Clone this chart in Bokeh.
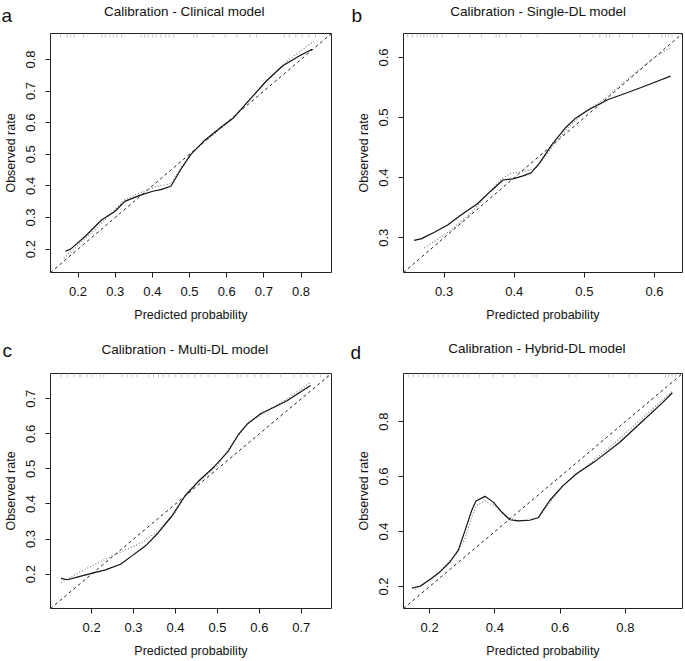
import numpy as np
from bokeh.plotting import figure
from bokeh.layouts import gridplot
from bokeh.models import FixedTicker, Range1d, Label
from bokeh.embed import file_html
from bokeh.resources import INLINE

FONT = "Liberation Sans"

# ---------------- data ----------------
# Panel a: Clinical model
a_lim = [0.126, 0.882]
a_xticks = [0.2, 0.3, 0.4, 0.5, 0.6, 0.7, 0.8]
a_yticks = [0.2, 0.3, 0.4, 0.5, 0.6, 0.7, 0.8]
a_bias_x = [0.166, 0.18, 0.219, 0.264, 0.299, 0.326, 0.366, 0.401, 0.423, 0.45, 0.476, 0.503, 0.538, 0.582, 0.618, 0.662, 0.706, 0.75, 0.795, 0.83]
a_bias_y = [0.193, 0.2, 0.24, 0.293, 0.319, 0.351, 0.37, 0.383, 0.388, 0.399, 0.451, 0.499, 0.541, 0.583, 0.615, 0.673, 0.731, 0.779, 0.811, 0.832]
a_app_x = [0.162, 0.202, 0.246, 0.29, 0.326, 0.37, 0.414, 0.45, 0.476, 0.511, 0.565, 0.618, 0.706, 0.768, 0.835]
a_app_y = [0.171, 0.214, 0.261, 0.314, 0.356, 0.38, 0.399, 0.407, 0.456, 0.51, 0.562, 0.615, 0.731, 0.8, 0.858]
a_rug = [0.153, 0.171, 0.18, 0.189, 0.215, 0.264, 0.273, 0.286, 0.295, 0.304, 0.317, 0.37, 0.379, 0.388,
         0.401, 0.41, 0.423, 0.436, 0.445, 0.458, 0.511, 0.52, 0.564, 0.596, 0.627, 0.662, 0.68, 0.755,
         0.768, 0.786, 0.803, 0.821, 0.839]

# Panel b: Single-DL model
b_lim = [0.242, 0.64]
b_xticks = [0.3, 0.4, 0.5, 0.6]
b_yticks = [0.3, 0.4, 0.5, 0.6]
b_bias_x = [0.257, 0.267, 0.286, 0.305, 0.323, 0.347, 0.366, 0.384, 0.398, 0.4125, 0.424, 0.436, 0.455, 0.473, 0.4875, 0.506, 0.534, 0.558, 0.581, 0.605, 0.623]
b_bias_y = [0.2955, 0.298, 0.309, 0.321, 0.337, 0.356, 0.377, 0.396, 0.398, 0.403, 0.408, 0.424, 0.457, 0.483, 0.499, 0.513, 0.53, 0.54, 0.55, 0.561, 0.569]
b_app_x = [0.272, 0.281, 0.309, 0.3375, 0.361, 0.38, 0.394, 0.4125, 0.431, 0.455, 0.478, 0.502, 0.53, 0.56, 0.6, 0.622]
b_app_y = [0.283, 0.29, 0.312, 0.34, 0.371, 0.396, 0.407, 0.41, 0.416, 0.452, 0.485, 0.511, 0.532, 0.563, 0.6, 0.616]
b_rug = [0.2476, 0.2546, 0.2617, 0.2664, 0.271, 0.2757, 0.2804, 0.285, 0.2898, 0.2968, 0.3203, 0.3366,
         0.3531, 0.3742, 0.3788, 0.3882, 0.4094, 0.4328, 0.4938, 0.5124, 0.5219, 0.5313, 0.536, 0.55,
         0.5687, 0.5922, 0.6109, 0.6157, 0.62, 0.625]

# Panel c: Multi-DL model
c_lim = [0.102, 0.772]
c_xticks = [0.2, 0.3, 0.4, 0.5, 0.6, 0.7]
c_yticks = [0.2, 0.3, 0.4, 0.5, 0.6, 0.7]
c_bias_x = [0.127, 0.142, 0.17, 0.2, 0.233, 0.269, 0.296, 0.328, 0.359, 0.391, 0.422, 0.454, 0.493, 0.525, 0.549, 0.572, 0.604, 0.635, 0.667, 0.698, 0.722]
c_bias_y = [0.188, 0.184, 0.193, 0.202, 0.212, 0.228, 0.252, 0.28, 0.318, 0.365, 0.422, 0.464, 0.507, 0.549, 0.596, 0.629, 0.658, 0.676, 0.695, 0.719, 0.738]
c_app_x = [0.127, 0.17, 0.217, 0.265, 0.32, 0.359, 0.399, 0.43, 0.462, 0.501, 0.541, 0.572, 0.62, 0.667, 0.722]
c_app_y = [0.176, 0.205, 0.233, 0.261, 0.29, 0.323, 0.375, 0.436, 0.469, 0.511, 0.582, 0.629, 0.667, 0.7, 0.747]
c_rug = [0.1267, 0.1425, 0.1584, 0.1702, 0.175, 0.1898, 0.2017, 0.2213, 0.2293, 0.2726, 0.2844, 0.2963,
         0.3081, 0.3358, 0.3476, 0.3594, 0.3713, 0.3831, 0.3987, 0.4146, 0.4304, 0.446, 0.4619, 0.4777,
         0.4934, 0.5251, 0.5487, 0.5565, 0.5724, 0.588, 0.6038, 0.6197, 0.6511, 0.6826, 0.6985, 0.7143,
         0.7299, 0.7458, 0.7617]

# Panel d: Hybrid-DL model
d_lim = [0.12, 0.975]
d_xticks = [0.2, 0.4, 0.6, 0.8]
d_yticks = [0.2, 0.4, 0.6, 0.8]
d_bias_x = [0.146, 0.172, 0.202, 0.2325, 0.263, 0.288, 0.309, 0.329, 0.342, 0.37, 0.395, 0.421, 0.446, 0.4715, 0.507, 0.5325, 0.568, 0.609, 0.65, 0.71, 0.782, 0.853, 0.914, 0.944]
d_bias_y = [0.194, 0.202, 0.2265, 0.254, 0.29, 0.3325, 0.405, 0.477, 0.511, 0.528, 0.507, 0.471, 0.443, 0.4385, 0.441, 0.45, 0.513, 0.567, 0.61, 0.658, 0.724, 0.802, 0.869, 0.905]
d_app_x = [0.156, 0.222, 0.283, 0.309, 0.329, 0.344, 0.37, 0.405, 0.436, 0.4715, 0.5325, 0.609, 0.751, 0.853, 0.944]
d_app_y = [0.188, 0.242, 0.32, 0.375, 0.453, 0.495, 0.511, 0.489, 0.453, 0.4385, 0.45, 0.567, 0.706, 0.814, 0.911]
d_rug = [0.135, 0.15, 0.1655, 0.181, 0.196, 0.2113, 0.2266, 0.2418, 0.257, 0.2723, 0.2875, 0.3028, 0.318,
         0.3535, 0.3943, 0.4248, 0.4602, 0.5164, 0.5264, 0.628, 0.6485, 0.75, 0.7604, 0.8111, 0.8315,
         0.923, 0.933, 0.9434, 0.9536]

titles = ["Calibration - Clinical model", "Calibration - Single-DL model",
          "Calibration - Multi-DL model", "Calibration - Hybrid-DL model"]
letters = ["a", "b", "c", "d"]


def make_panel(letter, title, lim, xticks, yticks, bx, by, ax, ay, rug,
               width, height, bl, br, bt, bb, title_pos, letter_side, letter_pos):
    lo, hi = lim
    fh = height - bt - bb
    p = figure(width=width, height=height, output_backend="svg", toolbar_location=None,
               x_range=Range1d(lo, hi), y_range=Range1d(lo, hi),
               min_border_left=bl, min_border_right=br, min_border_top=bt, min_border_bottom=bb,
               x_axis_label="Predicted probability", y_axis_label="Observed rate")
    p.grid.visible = False
    p.background_fill_color = "white"
    p.border_fill_color = "white"
    p.outline_line_color = "#222222"
    p.outline_line_alpha = 1.0
    p.outline_line_width = 1

    for axis, ticks in ((p.xaxis, xticks), (p.yaxis, yticks)):
        axis.ticker = FixedTicker(ticks=ticks)
        axis.axis_line_color = None
        axis.major_tick_in = 0
        axis.major_tick_out = 5
        axis.major_tick_line_color = "#222222"
        axis.minor_tick_line_color = None
        axis.major_label_text_font = FONT
        axis.major_label_text_font_size = "13px"
        axis.major_label_text_color = "#111111"
        axis.axis_label_text_font = FONT
        axis.axis_label_text_font_size = "12.5px"
        axis.axis_label_text_font_style = "normal"
        axis.axis_label_text_color = "#111111"
    p.yaxis.major_label_orientation = "vertical"
    p.xaxis.major_label_standoff = 9
    p.xaxis.axis_label_standoff = 9
    p.yaxis.major_label_standoff = 10
    p.yaxis.axis_label_standoff = 6

    # rug of predicted values along the top edge
    rh = (hi - lo) * 0.017
    p.segment(x0=rug, y0=[hi] * len(rug), x1=rug, y1=[hi - rh] * len(rug),
              line_color="#c8c8c8", line_width=1)
    # ideal
    p.line([lo, hi], [lo, hi], line_color="#222222", line_dash="3 3", line_width=1)
    # apparent
    p.line(ax, ay, line_color="#808080", line_dash="1 2", line_width=1.2)
    # bias-corrected
    p.line(bx, by, line_color="#111111", line_width=1.2)

    # main title in the panel above the frame (screen px relative to that panel)
    p.add_layout(Label(x=title_pos[0], y=title_pos[1], x_units="screen", y_units="screen",
                       text=title, text_font=FONT, text_font_size="13.5px",
                       text_color="#111111", text_baseline="alphabetic", text_align="left"), "above")
    # panel letter in a side panel (not clipped to the frame)
    p.add_layout(Label(x=letter_pos[0], y=fh + letter_pos[1], x_units="screen", y_units="screen",
                       text=letter, text_font=FONT, text_font_size="19px",
                       text_color="#111111", text_baseline="alphabetic", text_align="left"), letter_side)
    return p


pa = make_panel(letters[0], titles[0], a_lim, a_xticks, a_yticks, a_bias_x, a_bias_y, a_app_x, a_app_y, a_rug,
                342, 330, 48, 11, 33, 58, (53.5, 22), "right", (-330, 18))
pb = make_panel(letters[1], titles[1], b_lim, b_xticks, b_yticks, b_bias_x, b_bias_y, b_app_x, b_app_y, b_rug,
                342, 330, 58, 2, 33, 58, (46.7, 22.5), "left", (9, 18))
pc = make_panel(letters[2], titles[2], c_lim, c_xticks, c_yticks, c_bias_x, c_bias_y, c_app_x, c_app_y, c_rug,
                342, 330, 48, 11, 43, 50, (51, 24.5), "right", (-329, 21))
pd_ = make_panel(letters[3], titles[3], d_lim, d_xticks, d_yticks, d_bias_x, d_bias_y, d_app_x, d_app_y, d_rug,
                 342, 330, 58, 2, 43, 50, (44.7, 25), "left", (8, 19))

grid = gridplot([[pa, pb], [pc, pd_]], toolbar_location=None)

open("out.html", "w").write(file_html(grid, INLINE))
